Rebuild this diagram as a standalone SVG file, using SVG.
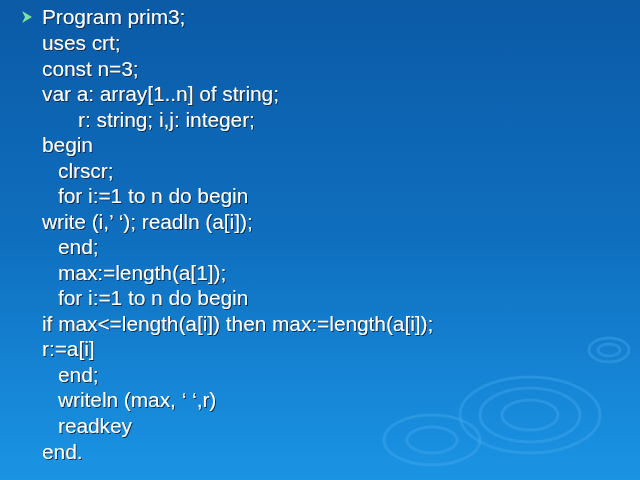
<svg xmlns="http://www.w3.org/2000/svg" width="640" height="480" viewBox="0 0 640 480">
<defs>
<linearGradient id="bg" x1="0" y1="0" x2="0" y2="1"><stop offset="0" stop-color="#0b5aa6"/><stop offset="0.5" stop-color="#0f6fbf"/><stop offset="1" stop-color="#1b94e4"/></linearGradient>
<filter id="sh"><feDropShadow dx="1" dy="1" stdDeviation="0.4" flood-color="#0a2040" flood-opacity="0.9"/></filter>
</defs>
<style>
text{font-family:"Liberation Sans",Arial,sans-serif;font-size:20.8px;fill:#fff;filter:url(#sh)}
.r{fill:none;stroke:#4aaef0;stroke-opacity:0.35;stroke-width:3}
</style>
<rect width="640" height="480" fill="url(#bg)"/>
<g id="ripples">
<ellipse class="r" cx="530" cy="415" rx="70" ry="38"/><ellipse class="r" cx="530" cy="415" rx="50" ry="27"/><ellipse class="r" cx="530" cy="415" rx="28" ry="15"/>
<ellipse class="r" cx="432" cy="440" rx="48" ry="25"/><ellipse class="r" cx="432" cy="440" rx="25" ry="13"/>
<ellipse class="r" cx="609" cy="350" rx="20" ry="12"/><ellipse class="r" cx="609" cy="350" rx="11" ry="6"/>
</g>
<g id="text">
<polygon points="22,11 32,17 22,23 25,17" fill="#7de0a0"/>
<text x="42" y="24">Program prim3;</text>
<text x="42" y="50">uses crt;</text>
<text x="42" y="76">const n=3;</text>
<text x="42" y="101">var a: array[1..n] of string;</text>
<text x="78" y="127">r: string; i,j: integer;</text>
<text x="42" y="152">begin</text>
<text x="58" y="178">clrscr;</text>
<text x="58" y="203">for i:=1 to n do begin</text>
<text x="42" y="229">write (i,’ ‘); readln (a[i]);</text>
<text x="58" y="254">end;</text>
<text x="58" y="280">max:=length(a[1]);</text>
<text x="58" y="305">for i:=1 to n do begin</text>
<text x="42" y="331">if max&lt;=length(a[i]) then max:=length(a[i]);</text>
<text x="42" y="356">r:=a[i]</text>
<text x="58" y="382">end;</text>
<text x="58" y="407">writeln (max, ‘ ‘,r)</text>
<text x="58" y="433">readkey</text>
<text x="42" y="459">end.</text>
</g>
</svg>
